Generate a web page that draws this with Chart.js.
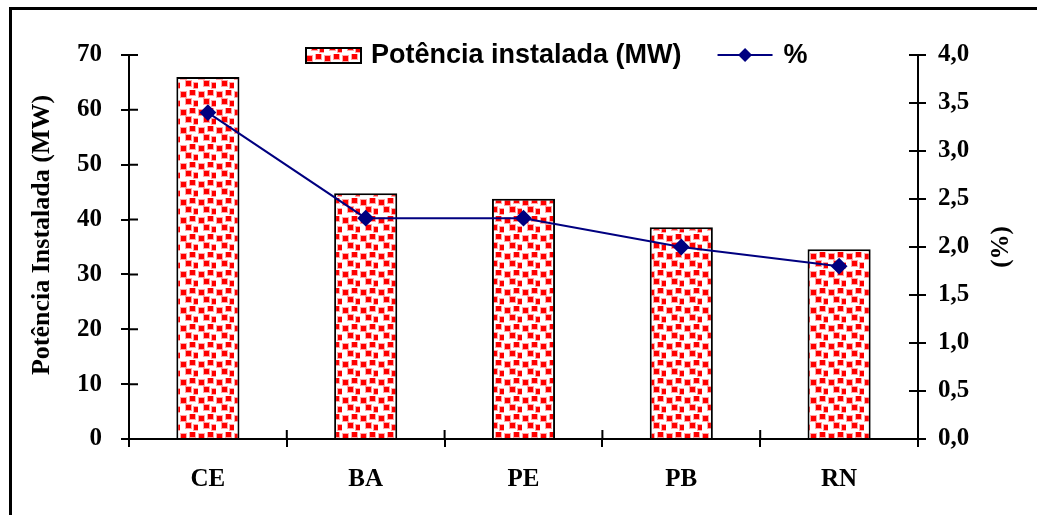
<!DOCTYPE html>
<html>
<head>
<meta charset="utf-8">
<script src="https://cdn.jsdelivr.net/npm/chart.js@4/dist/chart.umd.min.js"></script>
<style>
  html, body { margin: 0; padding: 0; background: #fff; overflow: hidden; }
  #frame { position: absolute; left: 9px; top: 7px; width: 1200px; height: 700px; border: 3px solid #000; }
  #wrap { position: absolute; left: 0; top: 0; width: 1037px; height: 515px; }
</style>
</head>
<body>
<div id="frame"></div>
<div id="wrap"><canvas id="chart" width="1037" height="515"></canvas></div>
<script>
// Potência instalada por estado (MW) + participação (%)

const states = ['CE', 'BA', 'PE', 'PB', 'RN'];
const installedMW = [66, 44.8, 43.8, 38.6, 34.6];
const sharePct = [3.4, 2.3, 2.3, 2.0, 1.8];
const mwTickLabels = ['0', '10', '20', '30', '40', '50', '60', '70'];
const pctTickLabels = ['0,0', '0,5', '1,0', '1,5', '2,0', '2,5', '3,0', '3,5', '4,0'];

const COLORS = {
  axis: '#000',
  dots: '#ff0000',
  line: '#000080',
};

const SERIF = "'Liberation Serif', 'Times New Roman', serif";
const SANS = "'Liberation Sans', Arial, sans-serif";

// red dotted fill used by the bars
function dotPattern() {
  const t = document.createElement('canvas');
  t.width = 18; t.height = 18;
  const c = t.getContext('2d');
  c.fillStyle = '#fff';
  c.fillRect(0, 0, 18, 18);
  const spots = [[1, 2], [10, 0], [6, 9], [14, 11]];
  spots.forEach(([x, y]) => {
    c.fillStyle = 'rgba(255,0,0,0.35)';
    c.fillRect(x - 1, y - 1, 7, 7);
    c.fillStyle = COLORS.dots;
    c.fillRect(x, y, 5, 5);
  });
  return document.getElementById('chart').getContext('2d').createPattern(t, 'repeat');
}

const pattern = dotPattern();

// crossing tick marks + custom legend + axis titles
const extras = {
  id: 'extras',
  afterDraw(chart) {
    const { ctx, chartArea, scales } = chart;
    const inner = 9;
    ctx.save();
    ctx.strokeStyle = COLORS.axis;
    ctx.lineWidth = 2;
    ctx.beginPath();
    scales.y.ticks.forEach((_, i) => {
      const py = scales.y.getPixelForTick(i);
      ctx.moveTo(chartArea.left, py); ctx.lineTo(chartArea.left + inner, py);
    });
    scales.y1.ticks.forEach((_, i) => {
      const py = scales.y1.getPixelForTick(i);
      ctx.moveTo(chartArea.right, py); ctx.lineTo(chartArea.right - inner, py);
    });
    for (let i = 0; i <= states.length; i++) {
      const px = scales.x.getPixelForValue(i - 0.5);
      ctx.moveTo(px, chartArea.bottom); ctx.lineTo(px, chartArea.bottom - inner);
    }
    ctx.stroke();

    // legend: bars first, then line
    const barSet = chart.data.datasets[1];
    const lineSet = chart.data.datasets[0];
    const ly = chartArea.top;
    let lx = chartArea.left + 177;
    ctx.font = `bold 27px ${SANS}`;
    ctx.textBaseline = 'middle';
    ctx.textAlign = 'left';
    ctx.fillStyle = pattern;
    ctx.fillRect(lx, ly - 7, 55, 15);
    ctx.lineWidth = 2;
    ctx.strokeRect(lx, ly - 7, 55, 15);
    lx += 65;
    ctx.fillStyle = '#000';
    ctx.fillText(barSet.label, lx, ly + 1);
    lx += ctx.measureText(barSet.label).width + 36;
    ctx.strokeStyle = COLORS.line;
    ctx.beginPath();
    ctx.moveTo(lx, ly); ctx.lineTo(lx + 55, ly);
    ctx.stroke();
    ctx.fillStyle = COLORS.line;
    ctx.beginPath();
    ctx.moveTo(lx + 27.5, ly - 7); ctx.lineTo(lx + 34.5, ly);
    ctx.lineTo(lx + 27.5, ly + 7); ctx.lineTo(lx + 20.5, ly);
    ctx.closePath(); ctx.fill();
    lx += 66;
    ctx.fillStyle = '#000';
    ctx.fillText(lineSet.label, lx, ly + 1);

    // axis titles, both reading bottom to top
    const midY = (chartArea.top + chartArea.bottom) / 2;
    ctx.textAlign = 'center';
    ctx.font = `bold 26px ${SERIF}`;
    ctx.save();
    ctx.translate(chartArea.left - 87, midY - 12);
    ctx.rotate(-Math.PI / 2);
    ctx.fillText('Potência Instalada (MW)', 0, 0);
    ctx.restore();
    ctx.font = `bold 25px ${SERIF}`;
    ctx.translate(chartArea.right + 84, midY);
    ctx.rotate(-Math.PI / 2);
    ctx.fillText('(%)', 0, 0);
    ctx.restore();
  },
};

const tickFont = { family: SERIF, size: 25, weight: 'bold' };

new Chart(document.getElementById('chart'), {
  type: 'bar',
  data: {
    labels: states,
    datasets: [
      {
        type: 'line',
        label: '%',
        data: sharePct,
        yAxisID: 'y1',
        borderColor: COLORS.line,
        backgroundColor: COLORS.line,
        borderWidth: 2,
        pointStyle: 'rectRot',
        pointRadius: 7,
        pointHoverRadius: 7,
        tension: 0,
        order: 0,
      },
      {
        label: 'Potência instalada (MW)',
        data: installedMW,
        yAxisID: 'y',
        backgroundColor: pattern,
        borderColor: COLORS.axis,
        borderWidth: 2,
        barPercentage: 0.4,
        categoryPercentage: 1,
        order: 1,
      },
    ],
  },
  options: {
    responsive: false,
    animation: false,
    layout: { padding: { top: 55, left: 0, right: 0, bottom: 0 } },
    plugins: { legend: { display: false }, tooltip: { enabled: false } },
    scales: {
      x: {
        grid: { drawOnChartArea: false, color: COLORS.axis, lineWidth: 2, tickLength: 8, offset: true },
        border: { color: COLORS.axis, width: 2 },
        ticks: { color: '#000', font: tickFont, padding: 18 },
        afterFit: (s) => { s.height = 76; },
      },
      y: {
        position: 'left',
        min: 0, max: 70,
        ticks: { stepSize: 10, color: '#000', font: tickFont, padding: 19, callback: (v, i) => mwTickLabels[i] },
        grid: { drawOnChartArea: false, color: COLORS.axis, lineWidth: 2, tickLength: 8 },
        border: { color: COLORS.axis, width: 2 },
        afterFit: (s) => { s.width = 129; },
      },
      y1: {
        position: 'right',
        min: 0, max: 4,
        ticks: { stepSize: 0.5, color: '#000', font: tickFont, padding: 12, callback: (v, i) => pctTickLabels[i] },
        grid: { drawOnChartArea: false, color: COLORS.axis, lineWidth: 2, tickLength: 8 },
        border: { color: COLORS.axis, width: 2 },
        afterFit: (s) => { s.width = 119; },
      },
    },
  },
  plugins: [extras],
});
</script>
</body>
</html>
